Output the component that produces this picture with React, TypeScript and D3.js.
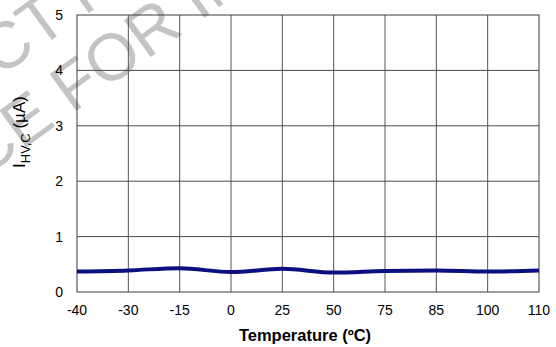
import React, { useRef, useEffect } from 'react';
import * as d3 from 'd3';

const temps = ["-40", "-30", "-15", "0", "25", "50", "75", "85", "100", "110"];
const current = [0.37, 0.39, 0.43, 0.36, 0.42, 0.35, 0.38, 0.39, 0.37, 0.39];
const yTicks = [0, 1, 2, 3, 4, 5];

const W = 556;
const H = 347;

const App: React.FC = () => {
    const ref = useRef<SVGSVGElement>(null);

    useEffect(() => {
        if (!ref.current) return;
        const svg = d3.select(ref.current);
        svg.selectAll("*").remove();

        const left = 77, right = 539, top = 15, bottom = 292;
        const x = d3.scalePoint<string>().domain(temps).range([left, right]);
        const y = d3.scaleLinear().domain([0, 5]).range([bottom, top]);
        const font = "'Liberation Sans', Arial, sans-serif";

        // watermark behind the chart
        const wm = svg.append("g")
            .attr("fill", "#c4c4c4")
            .style("font-family", font)
            .style("font-size", "66px");
        const l1 = wm.append("g").attr("transform", "translate(38,50) rotate(-36)");
        l1.append("text").attr("text-anchor", "end").text("PRODUC");
        l1.append("text").attr("text-anchor", "start").text("T PREVIEW");
        const l2 = wm.append("g").attr("transform", "translate(72,114) rotate(-36)");
        l2.append("text").attr("x", -18).attr("text-anchor", "end").text("REFERENCE");
        l2.append("text").attr("text-anchor", "start").text("FOR INFORMATION");

        // grid
        const grid = svg.append("g");
        grid.selectAll(".hg")
            .data(yTicks.slice(1, -1))
            .enter()
            .append("line")
            .attr("x1", left).attr("x2", right)
            .attr("y1", d => y(d)).attr("y2", d => y(d))
            .attr("stroke", "#4a4a4a").attr("stroke-width", 1);
        grid.selectAll(".vg")
            .data(temps.slice(1, -1))
            .enter()
            .append("line")
            .attr("x1", d => x(d)!).attr("x2", d => x(d)!)
            .attr("y1", top).attr("y2", bottom)
            .attr("stroke", "#555").attr("stroke-width", 1);
        grid.append("rect")
            .attr("x", left).attr("y", top)
            .attr("width", right - left).attr("height", bottom - top)
            .attr("fill", "none").attr("stroke", "#3a3a3a").attr("stroke-width", 1);

        svg.append("g").selectAll("text")
            .data(yTicks)
            .enter()
            .append("text")
            .attr("x", 63)
            .attr("y", d => y(d))
            .attr("dy", "0.36em")
            .attr("text-anchor", "end")
            .style("font-family", font).style("font-size", "14px")
            .text(d => d);

        svg.append("g").selectAll("text")
            .data(temps)
            .enter()
            .append("text")
            .attr("x", d => x(d)!)
            .attr("y", 315)
            .attr("text-anchor", "middle")
            .style("font-family", font).style("font-size", "14px")
            .text(d => d);

        svg.append("text")
            .attr("x", (left + right) / 2 - 3)
            .attr("y", 341)
            .attr("text-anchor", "middle")
            .style("font-family", font).style("font-size", "16.5px").style("font-weight", "bold")
            .text("Temperature (ºC)");

        const yl = svg.append("text")
            .attr("transform", "translate(25,132) rotate(-90)")
            .attr("text-anchor", "middle")
            .style("font-family", font).style("font-size", "17px");
        yl.append("tspan").text("I");
        yl.append("tspan").attr("dy", 5).style("font-size", "13px").text("HV,C");
        yl.append("tspan").attr("dy", -5).text(" (µA)");

        const line = d3.line<number>()
            .x((_, i) => x(temps[i])!)
            .y(d => y(d))
            .curve(d3.curveMonotoneX);

        svg.append("path")
            .datum(current)
            .attr("d", line)
            .attr("fill", "none")
            .attr("stroke", "#0c0f80")
            .attr("stroke-width", 4)
            .attr("stroke-linejoin", "round");
    }, []);

    return (
        <svg ref={ref} width={W} height={H}
            style={{ position: "absolute", left: 0, top: 0, background: "#fff" }} />
    );
};

export default App;
